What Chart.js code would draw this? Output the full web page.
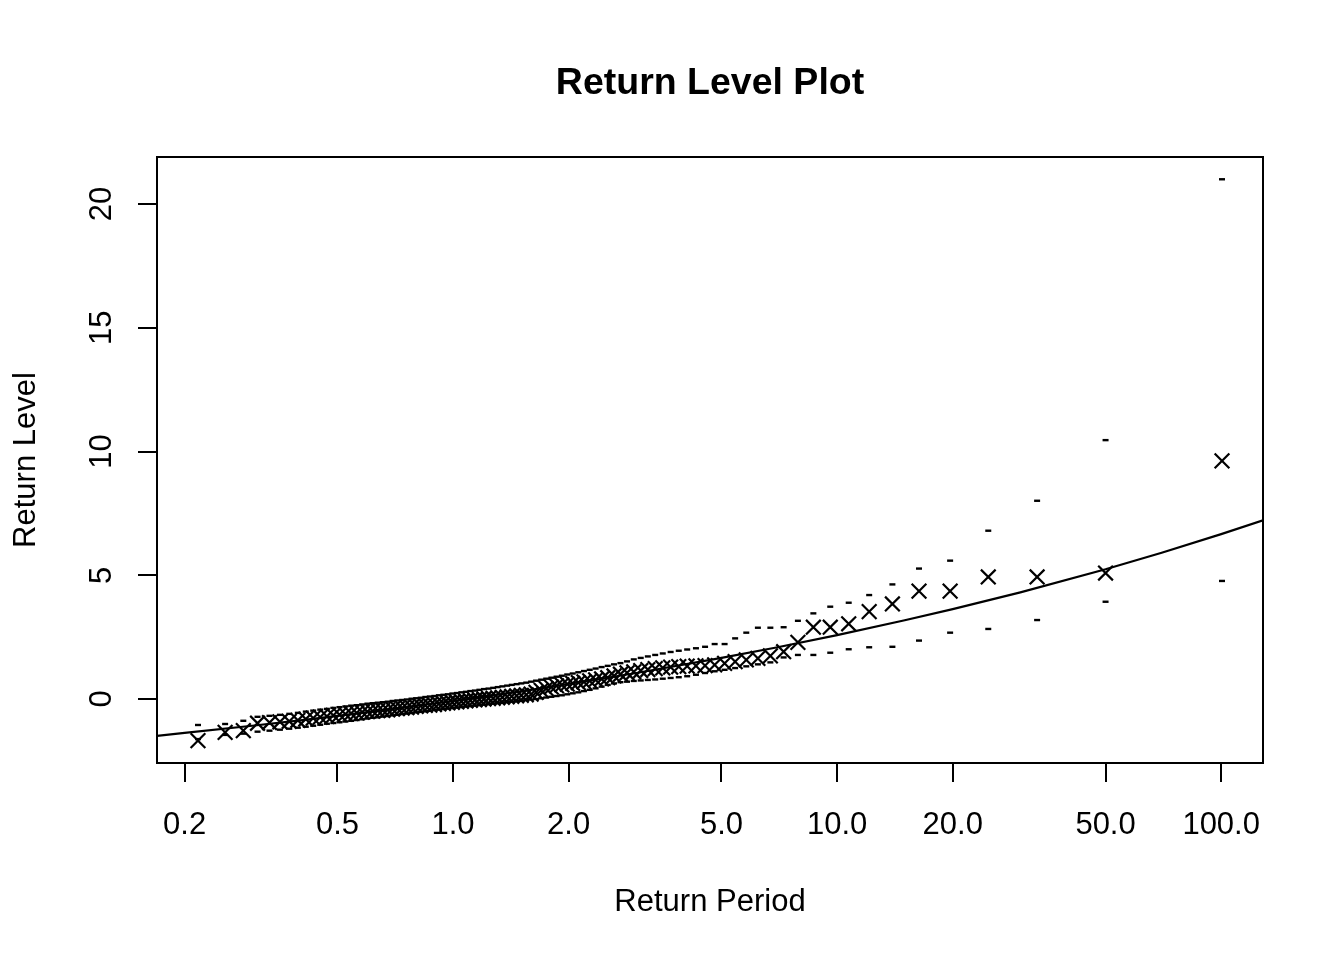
<!DOCTYPE html>
<html>
<head>
<meta charset="utf-8">
<title>Return Level Plot</title>
<script src="https://cdn.jsdelivr.net/npm/chart.js@4.4.1/dist/chart.umd.min.js"></script>
<style>
  html,body{margin:0;padding:0;background:#fff;}
  canvas{display:block;}
</style>
</head>
<body>
<canvas id="chart" width="1344" height="960"></canvas>
<script>
// empirical return periods of the 100 sorted observations
const returnPeriod=[0.2167,0.2550,0.2844,0.3097,0.3327,0.3542,0.3746,0.3944,0.4136,0.4324,
  0.4510,0.4694,0.4878,0.5061,0.5244,0.5427,0.5612,0.5798,0.5985,0.6175,
  0.6367,0.6561,0.6759,0.6959,0.7162,0.7369,0.7580,0.7795,0.8014,0.8238,
  0.8467,0.8700,0.8940,0.9185,0.9436,0.9694,0.9958,1.023,1.051,1.080,
  1.109,1.140,1.171,1.204,1.237,1.272,1.307,1.344,1.383,1.422,
  1.464,1.506,1.551,1.597,1.645,1.696,1.748,1.803,1.860,1.920,
  1.983,2.049,2.119,2.192,2.269,2.351,2.437,2.528,2.625,2.728,
  2.838,2.955,3.081,3.215,3.360,3.516,3.686,3.870,4.070,4.290,
  4.531,4.799,5.094,5.426,5.801,6.219,6.702,7.257,7.905,8.673,
  9.597,10.72,12.12,13.93,16.34,19.69,24.75,33.17,50.00,100.5];
const returnLevel=[-1.68,-1.35,-1.28,-0.98,-0.95,-0.92,-0.90,-0.86,-0.81,-0.77,
  -0.73,-0.70,-0.66,-0.63,-0.61,-0.58,-0.56,-0.53,-0.51,-0.49,
  -0.47,-0.46,-0.44,-0.41,-0.39,-0.37,-0.35,-0.33,-0.30,-0.28,
  -0.26,-0.25,-0.23,-0.20,-0.18,-0.16,-0.14,-0.12,-0.10,-0.08,
  -0.06,-0.04,-0.02,0.00,0.02,0.03,0.05,0.07,0.09,0.11,
  0.13,0.15,0.17,0.20,0.27,0.35,0.42,0.48,0.53,0.57,
  0.60,0.63,0.66,0.69,0.73,0.77,0.81,0.86,0.93,1.00,
  1.06,1.10,1.15,1.19,1.23,1.26,1.29,1.31,1.33,1.34,
  1.35,1.38,1.44,1.51,1.58,1.64,1.74,1.91,2.29,2.90,
  2.90,3.04,3.53,3.84,4.36,4.36,4.93,4.93,5.09,9.62];
const upperBound=[-1.05,-1.01,-0.88,-0.72,-0.68,-0.64,-0.60,-0.56,-0.51,-0.47,
  -0.43,-0.40,-0.36,-0.33,-0.30,-0.27,-0.25,-0.22,-0.19,-0.17,
  -0.15,-0.13,-0.11,-0.08,-0.06,-0.04,-0.02,0.01,0.03,0.05,
  0.08,0.10,0.12,0.15,0.17,0.19,0.22,0.24,0.27,0.29,
  0.32,0.34,0.37,0.40,0.42,0.45,0.48,0.51,0.54,0.57,
  0.60,0.63,0.66,0.70,0.74,0.78,0.82,0.86,0.90,0.94,
  0.99,1.03,1.08,1.13,1.18,1.23,1.29,1.34,1.40,1.45,
  1.52,1.60,1.66,1.72,1.78,1.84,1.90,1.95,2.00,2.05,
  2.11,2.22,2.22,2.45,2.68,2.88,2.88,2.90,3.16,3.46,
  3.73,3.89,4.20,4.63,5.27,5.59,6.80,8.01,10.46,21.0];
const lowerBound=[-1.62,-1.45,-1.40,-1.32,-1.28,-1.24,-1.20,-1.16,-1.12,-1.08,
  -1.04,-1.00,-0.97,-0.94,-0.91,-0.88,-0.85,-0.82,-0.79,-0.76,
  -0.74,-0.71,-0.69,-0.66,-0.64,-0.61,-0.59,-0.57,-0.54,-0.52,
  -0.50,-0.48,-0.45,-0.43,-0.41,-0.39,-0.37,-0.35,-0.33,-0.31,
  -0.29,-0.27,-0.25,-0.23,-0.21,-0.19,-0.17,-0.15,-0.13,-0.11,
  -0.09,-0.07,-0.04,-0.02,0.00,0.03,0.06,0.09,0.12,0.15,
  0.19,0.23,0.27,0.32,0.37,0.43,0.50,0.57,0.63,0.68,
  0.70,0.73,0.75,0.77,0.79,0.82,0.85,0.88,0.92,0.98,
  1.05,1.12,1.18,1.25,1.32,1.40,1.48,1.68,1.78,1.78,
  1.87,2.01,2.09,2.11,2.36,2.68,2.83,3.19,3.93,4.77];
// fitted return level curve
const curvePeriod=[0.1695,0.2,0.3,0.4,0.5,0.7,1,1.5,2,3,5,7,10,15,20,30,50,70,100,128.5];
const curveLevel=[-1.49,-1.37,-1.08,-0.86,-0.68,-0.40,-0.08,0.31,0.605,1.05,1.66,2.09,2.58,3.18,3.63,4.31,5.24,5.91,6.66,7.22];
const xTicks=[0.2,0.5,1,2,5,10,20,50,100];
const xTickLabels=['0.2','0.5','1.0','2.0','5.0','10.0','20.0','50.0','100.0'];
const yTicks=[0,5,10,15,20];

const toPoints=(xs,ys)=>xs.map((x,i)=>({x,y:ys[i]}));
const frame={
  id:'frame',
  beforeDraw(chart){const c=chart.ctx;c.save();c.fillStyle='#fff';c.fillRect(0,0,chart.width,chart.height);c.restore();},
  afterDraw(chart){const {left,top,width,height}=chart.chartArea,c=chart.ctx;c.save();c.strokeStyle='#000';c.lineWidth=2;c.strokeRect(left,top,width,height);c.restore();}
};
Chart.defaults.font.family="'Liberation Sans', Arial, sans-serif";
Chart.defaults.color='#000';
new Chart(document.getElementById('chart').getContext('2d'),{
  type:'scatter',
  data:{datasets:[
    {label:'fit',data:toPoints(curvePeriod,curveLevel),showLine:true,borderColor:'#000',borderWidth:2.2,pointRadius:0,tension:0},
    {label:'upper',data:toPoints(returnPeriod,upperBound),pointStyle:'line',pointRadius:3,borderColor:'#000',borderWidth:2.4},
    {label:'lower',data:toPoints(returnPeriod,lowerBound),pointStyle:'line',pointRadius:3,borderColor:'#000',borderWidth:2.4},
    {label:'observed',data:toPoints(returnPeriod,returnLevel),pointStyle:'crossRot',pointRadius:10.4,borderColor:'#000',backgroundColor:'rgba(0,0,0,0)',borderWidth:2.2}
  ]},
  options:{
    responsive:false,animation:false,devicePixelRatio:1,events:[],
    layout:{padding:{left:0,top:0,right:81,bottom:0}},
    plugins:{
      legend:{display:false},tooltip:{enabled:false},
      title:{display:true,fullSize:false,text:'Return Level Plot',color:'#000',font:{size:37.5,weight:'bold'},padding:{top:61,bottom:51}}
    },
    scales:{
      x:{type:'logarithmic',position:'bottom',min:0.1695,max:128.5,
        afterBuildTicks:scale=>{scale.ticks=xTicks.map(value=>({value}));},
        afterFit:scale=>{scale.height=197;},
        ticks:{autoSkip:false,minRotation:0,maxRotation:0,padding:24.4,font:{size:31}},
        grid:{drawOnChartArea:false,drawTicks:true,tickLength:19,color:'#000',lineWidth:2},
        border:{display:false},
        title:{display:true,text:'Return Period',font:{size:31},padding:{top:0,bottom:39}}
      },
      y:{type:'linear',position:'left',min:-2.586,max:21.9,
        afterBuildTicks:scale=>{scale.ticks=yTicks.map(value=>({value}));},
        afterFit:scale=>{scale.width=157;},
        ticks:{minRotation:90,maxRotation:90,crossAlign:'center',padding:18,font:{size:31}},
        grid:{drawOnChartArea:false,drawTicks:true,tickLength:19,color:'#000',lineWidth:2},
        border:{display:false},
        title:{display:true,text:'Return Level',font:{size:31},padding:{top:7.4,bottom:0}}
      }
    }
  },
  plugins:[frame]
});
// tick labels come from the named label list
Chart.getChart('chart').options.scales.x.ticks.callback=(value,index)=>xTickLabels[index];
Chart.getChart('chart').update();
</script>
</body>
</html>
